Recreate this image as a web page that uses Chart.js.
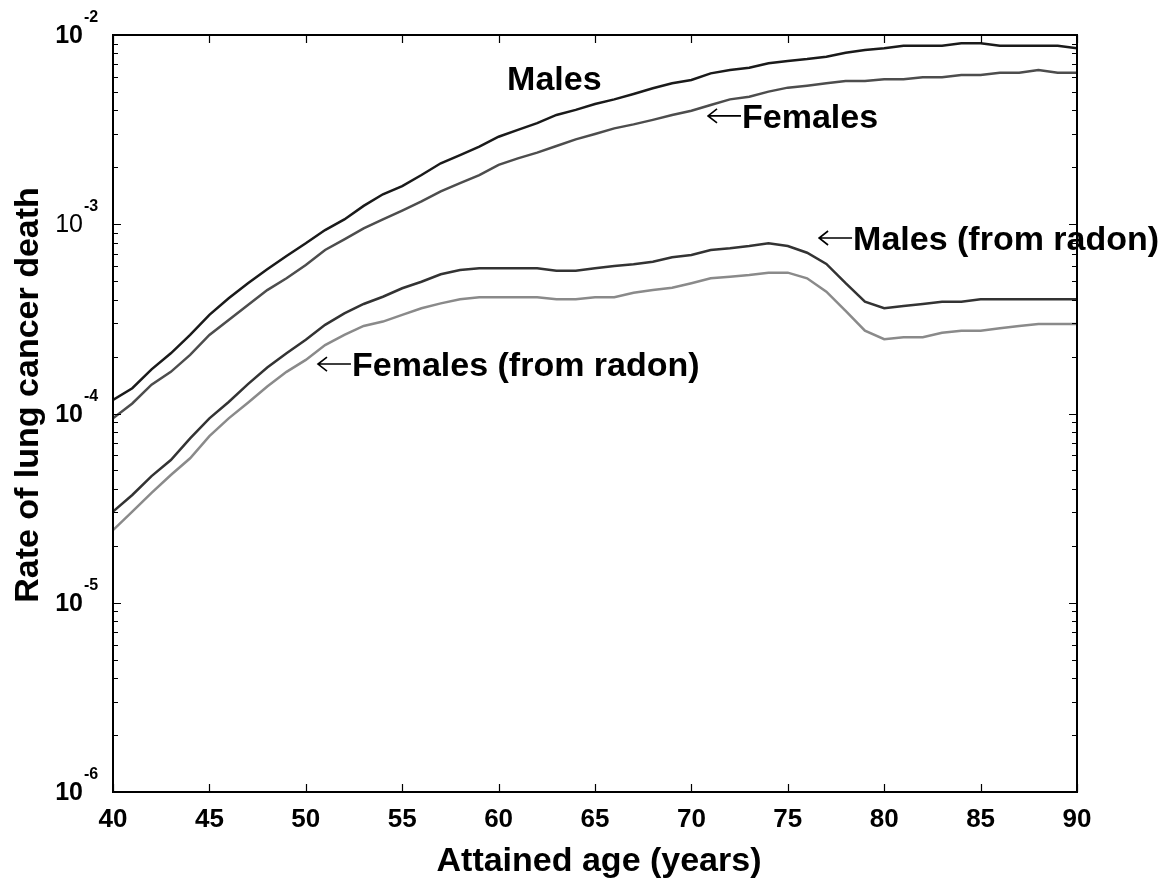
<!DOCTYPE html>
<html>
<head>
<meta charset="utf-8">
<script src="https://cdn.jsdelivr.net/npm/chart.js@4.4.1/dist/chart.umd.min.js"></script>
<style>
html,body{margin:0;padding:0;background:#fff;}
#wrap{position:relative;width:1171px;height:884px;}
</style>
</head>
<body>
<div id="wrap"><canvas id="c" width="1171" height="884"></canvas></div>
<script>
const ages = [40,41,42,43,44,45,46,47,48,49,50,51,52,53,54,55,56,57,58,59,60,61,62,63,64,65,66,67,68,69,70,71,72,73,74,75,76,77,78,79,80,81,82,83,84,85,86,87,88,89,90];

const males = [1.18e-4,1.36e-4,1.71e-4,2.08e-4,2.60e-4,3.32e-4,4.06e-4,4.88e-4,5.78e-4,6.80e-4,
  7.93e-4,9.32e-4,1.06e-3,1.25e-3,1.44e-3,1.59e-3,1.82e-3,2.10e-3,2.32e-3,2.57e-3,
  2.90e-3,3.15e-3,3.42e-3,3.78e-3,4.02e-3,4.32e-3,4.57e-3,4.88e-3,5.23e-3,5.56e-3,
  5.78e-3,6.27e-3,6.53e-3,6.72e-3,7.09e-3,7.29e-3,7.46e-3,7.68e-3,8.06e-3,8.33e-3,
  8.50e-3,8.78e-3,8.78e-3,8.78e-3,9.04e-3,9.04e-3,8.78e-3,8.78e-3,8.78e-3,8.78e-3,8.50e-3];

const females = [9.43e-5,1.13e-4,1.42e-4,1.66e-4,2.04e-4,2.60e-4,3.12e-4,3.74e-4,4.49e-4,5.18e-4,
  6.09e-4,7.31e-4,8.32e-4,9.52e-4,1.06e-3,1.18e-3,1.32e-3,1.49e-3,1.65e-3,1.82e-3,
  2.06e-3,2.23e-3,2.39e-3,2.59e-3,2.81e-3,3.00e-3,3.21e-3,3.37e-3,3.56e-3,3.78e-3,
  3.98e-3,4.27e-3,4.57e-3,4.72e-3,5.02e-3,5.27e-3,5.40e-3,5.56e-3,5.71e-3,5.71e-3,
  5.83e-3,5.83e-3,5.98e-3,5.98e-3,6.15e-3,6.15e-3,6.32e-3,6.32e-3,6.53e-3,6.32e-3,6.32e-3];

const malesRadon = [3.03e-5,3.71e-5,4.67e-5,5.68e-5,7.39e-5,9.43e-5,1.15e-4,1.43e-4,1.75e-4,2.08e-4,
  2.45e-4,2.94e-4,3.38e-4,3.79e-4,4.14e-4,4.59e-4,4.97e-4,5.44e-4,5.73e-4,5.85e-4,
  5.85e-4,5.85e-4,5.85e-4,5.68e-4,5.68e-4,5.85e-4,6.02e-4,6.14e-4,6.34e-4,6.69e-4,
  6.88e-4,7.31e-4,7.46e-4,7.67e-4,7.93e-4,7.67e-4,7.07e-4,6.17e-4,4.88e-4,3.90e-4,
  3.60e-4,3.70e-4,3.79e-4,3.90e-4,3.90e-4,4.01e-4,4.01e-4,4.01e-4,4.01e-4,4.01e-4,4.01e-4];

const femalesRadon = [2.42e-5,3.03e-5,3.81e-5,4.73e-5,5.80e-5,7.60e-5,9.43e-5,1.14e-4,1.39e-4,1.66e-4,
  1.92e-4,2.30e-4,2.60e-4,2.90e-4,3.06e-4,3.32e-4,3.60e-4,3.82e-4,4.01e-4,4.11e-4,
  4.11e-4,4.11e-4,4.11e-4,4.01e-4,4.01e-4,4.11e-4,4.11e-4,4.35e-4,4.49e-4,4.62e-4,
  4.88e-4,5.18e-4,5.28e-4,5.39e-4,5.55e-4,5.55e-4,5.18e-4,4.40e-4,3.49e-4,2.74e-4,
  2.47e-4,2.53e-4,2.53e-4,2.67e-4,2.74e-4,2.74e-4,2.82e-4,2.90e-4,2.97e-4,2.97e-4,2.97e-4];

const xTicks = [40,45,50,55,60,65,70,75,80,85,90];
const yTickExponents = [-2,-3,-4,-5,-6];
const xTitle = "Attained age (years)";
const yTitle = "Rate of lung cancer death";
const labelTexts = ["Males","Females","Males (from radon)","Females (from radon)"];
const labelArrows = [false,true,true,true];
const labelAges = [60.44,70.81,76.57,50.58];
const labelValues = [5.12e-3,3.23e-3,7.31e-4,1.578e-4];

const FONT = '"Liberation Sans", Arial, Helvetica, sans-serif';

function pts(arr){ return ages.map((a,i)=>({x:a,y:arr[i]})); }

const decor = {
  id:'decor',
  afterDraw(chart){
    const ctx = chart.ctx;
    const xs = chart.scales.x, ys = chart.scales.y;
    const L = chart.chartArea.left, R = chart.chartArea.right, T = chart.chartArea.top, B = chart.chartArea.bottom;
    ctx.save();
    ctx.strokeStyle = '#000'; ctx.lineWidth = 2;
    ctx.strokeRect(L, T, R-L, B-T);
    ctx.lineWidth = 1.2;
    ctx.beginPath();
    xTicks.forEach(v=>{
      const px = Math.round(xs.getPixelForValue(v))+0.5;
      ctx.moveTo(px,B); ctx.lineTo(px,B-8);
      ctx.moveTo(px,T); ctx.lineTo(px,T+8);
    });
    for (let e=-6; e<=-2; e++){
      for (let m=1; m<=9; m++){
        if (e===-2 && m>1) break;
        const v = m*Math.pow(10,e);
        const py = Math.round(ys.getPixelForValue(v))+0.5;
        const len = m===1 ? 8 : 5;
        ctx.moveTo(L,py); ctx.lineTo(L+len,py);
        ctx.moveTo(R,py); ctx.lineTo(R-len,py);
      }
    }
    ctx.stroke();
    ctx.fillStyle = '#000';
    ctx.font = 'bold 26px '+FONT;
    ctx.textAlign = 'center'; ctx.textBaseline = 'alphabetic';
    xTicks.forEach(v=>{
      ctx.fillText(String(v), xs.getPixelForValue(v), B+35);
    });
    yTickExponents.forEach(e=>{
      const py = ys.getPixelForValue(Math.pow(10,e));
      ctx.textAlign = 'right';
      ctx.font = (e===-3 ? '' : 'bold ') + '25px '+FONT;
      ctx.fillText('10', 83, py+8);
      ctx.textAlign = 'left';
      ctx.font = 'bold 16px '+FONT;
      ctx.fillText(String(e), 84, py-13);
    });
    ctx.font = 'bold 34px '+FONT;
    ctx.textAlign = 'center';
    ctx.fillText(xTitle, (L+R)/2+4, 871);
    ctx.save();
    ctx.translate(38, 395);
    ctx.rotate(-Math.PI/2);
    ctx.fillText(yTitle, 0, 0);
    ctx.restore();
    labelTexts.forEach((txt,i)=>{
      let x = xs.getPixelForValue(labelAges[i]);
      const y = ys.getPixelForValue(labelValues[i]);
      ctx.textAlign = 'left';
      if (labelArrows[i]){
        ctx.strokeStyle = '#000'; ctx.lineWidth = 1.6;
        const ay = y - 12;
        ctx.beginPath();
        ctx.moveTo(x+34, ay); ctx.lineTo(x+1, ay);
        ctx.moveTo(x+10, ay-7); ctx.lineTo(x+1, ay); ctx.lineTo(x+10, ay+7);
        ctx.stroke();
        x += 35;
      }
      ctx.font = 'bold 34px '+FONT;
      ctx.fillText(txt, x, y);
    });
    ctx.restore();
  }
};

new Chart(document.getElementById('c'), {
  type:'line',
  data:{
    datasets:[
      {label:'Males', data:pts(males), borderColor:'#1a1a1a'},
      {label:'Females', data:pts(females), borderColor:'#4d4d4d'},
      {label:'Males (from radon)', data:pts(malesRadon), borderColor:'#333333'},
      {label:'Females (from radon)', data:pts(femalesRadon), borderColor:'#8a8a8a'}
    ].map(d=>Object.assign(d,{borderWidth:2.5, pointRadius:0, fill:false, tension:0}))
  },
  plugins:[decor],
  options:{
    responsive:false,
    animation:false,
    devicePixelRatio:1,
    layout:{padding:{left:0, top:35, right:94, bottom:0}},
    plugins:{legend:{display:false}, tooltip:{enabled:false}},
    scales:{
      x:{type:'linear', min:40, max:90,
         ticks:{display:false, stepSize:5},
         grid:{display:false}, border:{display:false},
         afterFit(s){ s.height = 92; }},
      y:{type:'logarithmic', min:1e-6, max:1e-2,
         ticks:{display:false},
         grid:{display:false}, border:{display:false},
         afterFit(s){ s.width = 113; }}
    }
  }
});
</script>
</body>
</html>
